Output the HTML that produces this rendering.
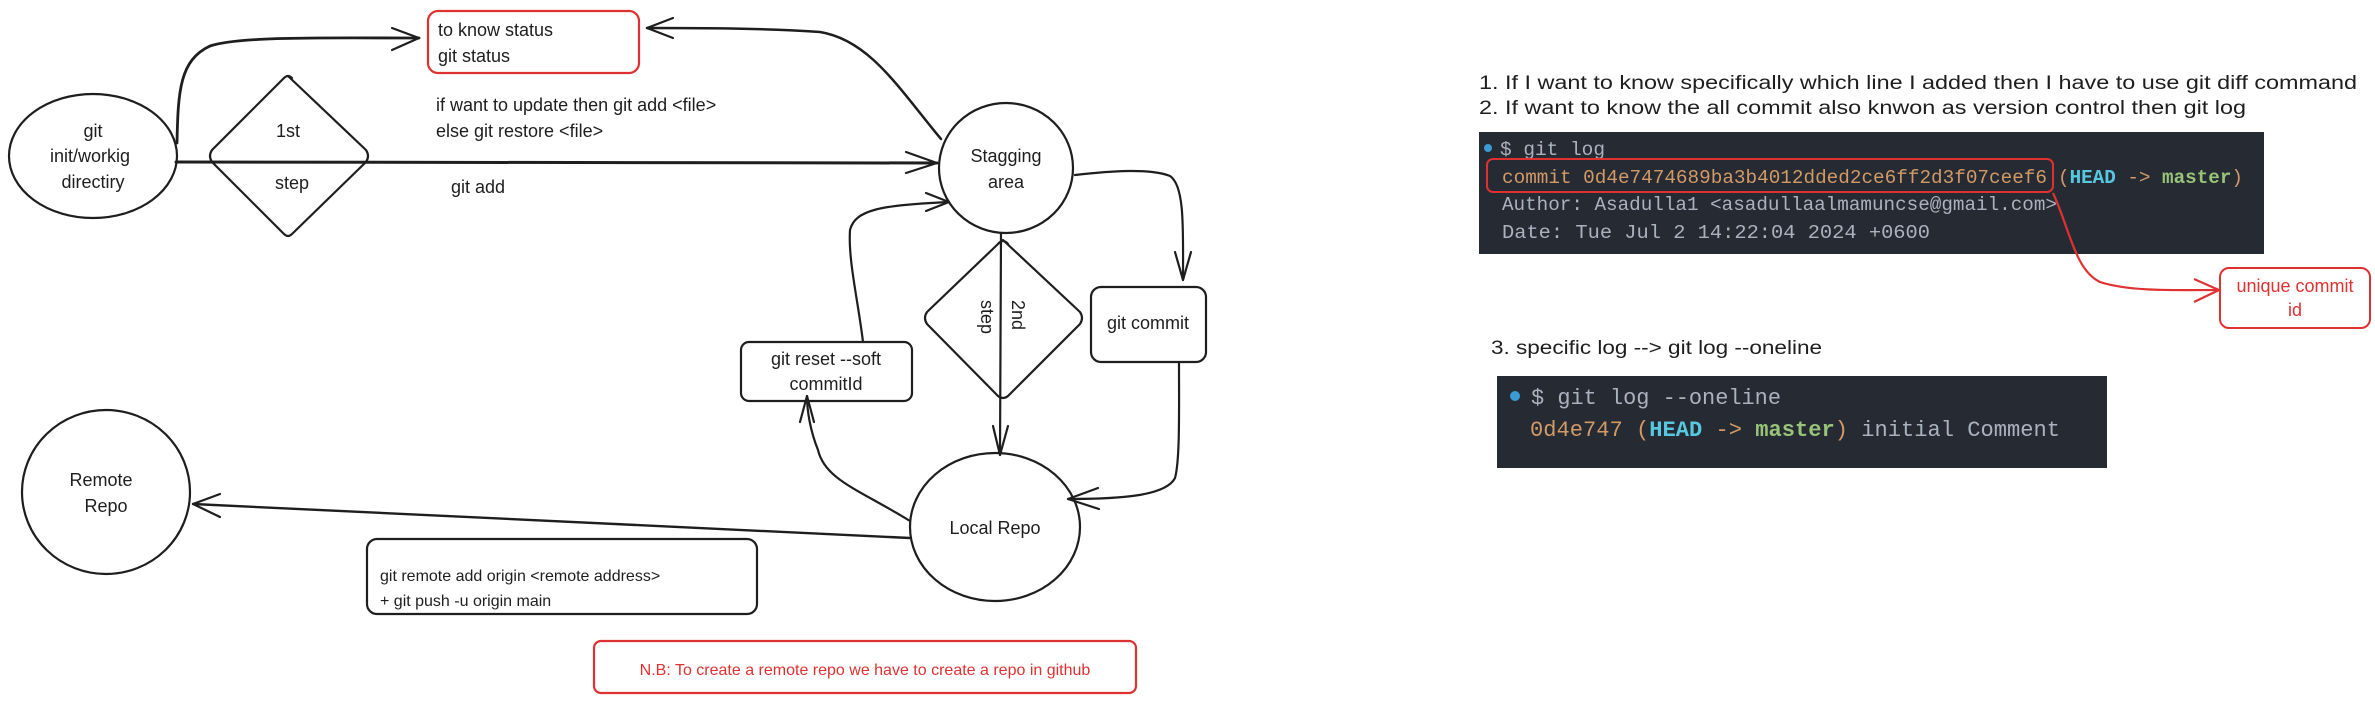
<!DOCTYPE html>
<html><head><meta charset="utf-8"><style>
html,body{margin:0;padding:0;background:#fff;}
svg{display:block;}
.h{font-family:"Liberation Sans",sans-serif;font-size:18px;fill:#1e1e1e;}
.m{font-family:"Liberation Mono",monospace;}
</style></head><body>
<svg width="2375" height="703" viewBox="0 0 2375 703" xmlns="http://www.w3.org/2000/svg">
<g fill="none" stroke="#1e1e1e" stroke-width="2.2" stroke-linecap="round" stroke-linejoin="round">
<rect x="428" y="11" width="211" height="62" rx="10" stroke="#e03131"/>
<ellipse cx="93" cy="156" rx="84" ry="62"/>
<path d="M288 76 L366 150 Q370 156 366 162 L292 234 Q288 238 284 234 L212 162 Q208 156 212 150 L284 78 Q288 74 292 78"/>
<path d="M176 162 L937 163" stroke-width="3"/>
<path d="M906 152 L937 163 L906 173"/>
<ellipse cx="1006" cy="168" rx="67" ry="65"/>
<path d="M177 143 C178 90 180 60 210 46 C240 36 330 38 419 38" stroke-width="2.8"/>
<path d="M392 28 L419 38 L392 50"/>
<path d="M941 139 C900 90 870 40 820 32 C760 28 700 28 647 28" stroke-width="2.5"/>
<path d="M673 18 L647 28 L673 38"/>
<!-- staging -> git commit -->
<path d="M1075 175 C1110 171 1150 168 1170 176 C1185 186 1183 230 1183 280"/>
<path d="M1175 252 L1183 280 L1191 252"/>
<rect x="1091" y="287" width="115" height="75" rx="10"/>
<!-- git commit -> local -->
<path d="M1179 362 C1179 410 1180 460 1175 478 C1166 496 1120 499 1068 499"/>
<path d="M1098 488 L1068 499 L1099 509"/>
<path d="M1003 240 L1080 312 Q1084 318 1080 324 L1008 396 Q1003 400 998 396 L927 324 Q923 318 927 312 L998 244 Q1003 238 1008 244"/>
<path d="M1001 233 L1000 455"/>
<path d="M993 426 L1000 455 L1008 426"/>
<ellipse cx="995" cy="527" rx="85" ry="74"/>
<rect x="741" y="342" width="171" height="59" rx="8"/>
<path d="M910 521 C860 490 825 480 818 450 C810 430 807 410 807 396"/>
<path d="M800 422 L807 396 L814 422"/>
<path d="M863 342 C858 300 848 260 850 230 C855 210 880 205 949 202"/>
<path d="M926 193 L949 202 L926 211"/>
<ellipse cx="106" cy="492" rx="84" ry="82"/>
<path d="M910 538 L193 504" stroke-width="2.4"/>
<path d="M220 494 L193 504 L220 517"/>
<rect x="367" y="539" width="390" height="75" rx="10"/>
<rect x="594" y="641" width="542" height="52" rx="7" stroke="#e03131"/>
</g>
<g class="h">
<text x="438" y="36">to know status</text>
<text x="438" y="62">git status</text>
<text x="93" y="137" text-anchor="middle">git</text>
<text x="90" y="162" text-anchor="middle">init/workig</text>
<text x="93" y="188" text-anchor="middle">directiry</text>
<text x="288" y="137" text-anchor="middle">1st</text>
<text x="292" y="189" text-anchor="middle">step</text>
<text x="436" y="111">if want to update then git add &lt;file&gt;</text>
<text x="436" y="137">else git restore &lt;file&gt;</text>
<text x="451" y="193">git add</text>
<text x="1006" y="162" text-anchor="middle">Stagging</text>
<text x="1006" y="188" text-anchor="middle">area</text>
<text x="1148" y="329" text-anchor="middle">git commit</text>
<text x="826" y="365" text-anchor="middle">git reset --soft</text>
<text x="826" y="390" text-anchor="middle">commitId</text>
<text transform="translate(1012,300) rotate(90)">2nd</text>
<text transform="translate(981,300) rotate(90)">step</text>
<text x="995" y="534" text-anchor="middle">Local Repo</text>
<text x="101" y="486" text-anchor="middle">Remote</text>
<text x="106" y="512" text-anchor="middle">Repo</text>
<text x="380" y="581" font-size="16">git remote add origin &lt;remote address&gt;</text>
<text x="380" y="606" font-size="16">+ git push -u origin main</text>
<text x="865" y="675" text-anchor="middle" font-size="16" fill="#e03131">N.B: To create a remote repo we have to create a repo in github</text>
<text x="1479" y="89" font-size="19" textLength="878" lengthAdjust="spacingAndGlyphs">1. If I want to know specifically which line I added then I have to use git diff command</text>
<text x="1479" y="114" font-size="19" textLength="767" lengthAdjust="spacingAndGlyphs">2. If want to know the all commit also knwon as version control then git log</text>
<text x="1491" y="354" font-size="19" textLength="331" lengthAdjust="spacingAndGlyphs">3. specific log --&gt; git log --oneline</text>
</g>
<rect x="1479" y="132" width="785" height="122" fill="#262a33"/>
<circle cx="1488" cy="148" r="4" fill="#3b9bd4"/>
<g class="m" font-size="19">
<text x="1500" y="155" fill="#abb2bf" textLength="105" lengthAdjust="spacingAndGlyphs">$ git log</text>
<text x="1502" y="183" fill="#d19a66" textLength="545" lengthAdjust="spacingAndGlyphs">commit 0d4e7474689ba3b4012dded2ce6ff2d3f07ceef6</text>
<text x="2058" y="183" textLength="185" lengthAdjust="spacingAndGlyphs"><tspan fill="#d19a66">(</tspan><tspan fill="#56c8e0" font-weight="bold">HEAD</tspan><tspan fill="#d19a66"> -&gt; </tspan><tspan fill="#98c379" font-weight="bold">master</tspan><tspan fill="#d19a66">)</tspan></text>
<text x="1502" y="210" fill="#abb2bf" textLength="555" lengthAdjust="spacingAndGlyphs">Author: Asadulla1 &lt;asadullaalmamuncse@gmail.com&gt;</text>
<text x="1502" y="238" fill="#abb2bf" textLength="428" lengthAdjust="spacingAndGlyphs">Date:   Tue Jul 2 14:22:04 2024 +0600</text>
</g>
<rect x="1487" y="159" width="566" height="33" rx="6" fill="none" stroke="#e03131" stroke-width="2"/>
<path d="M2053 193 C2070 230 2075 270 2100 282 C2130 292 2180 290 2219 290" fill="none" stroke="#e03131" stroke-width="2.2"/>
<path d="M2194 279 L2219 290 L2194 302" fill="none" stroke="#e03131" stroke-width="2.2"/>
<rect x="2220" y="268" width="150" height="60" rx="9" fill="none" stroke="#e03131" stroke-width="2"/>
<g class="h" font-size="17">
<text x="2295" y="292" text-anchor="middle" fill="#e03131">unique commit</text>
<text x="2295" y="316" text-anchor="middle" fill="#e03131">id</text>
</g>
<rect x="1497" y="376" width="610" height="92" fill="#262a33"/>
<circle cx="1515" cy="396" r="5" fill="#3b9bd4"/>
<g class="m" font-size="22">
<text x="1531" y="404" fill="#abb2bf" textLength="250" lengthAdjust="spacingAndGlyphs">$ git log --oneline</text>
<text x="1530" y="436" textLength="530" lengthAdjust="spacingAndGlyphs"><tspan fill="#d19a66">0d4e747 (</tspan><tspan fill="#56c8e0" font-weight="bold">HEAD</tspan><tspan fill="#d19a66"> -&gt; </tspan><tspan fill="#98c379" font-weight="bold">master</tspan><tspan fill="#d19a66">)</tspan><tspan fill="#abb2bf"> initial Comment</tspan></text>
</g>
</svg>
</body></html>
